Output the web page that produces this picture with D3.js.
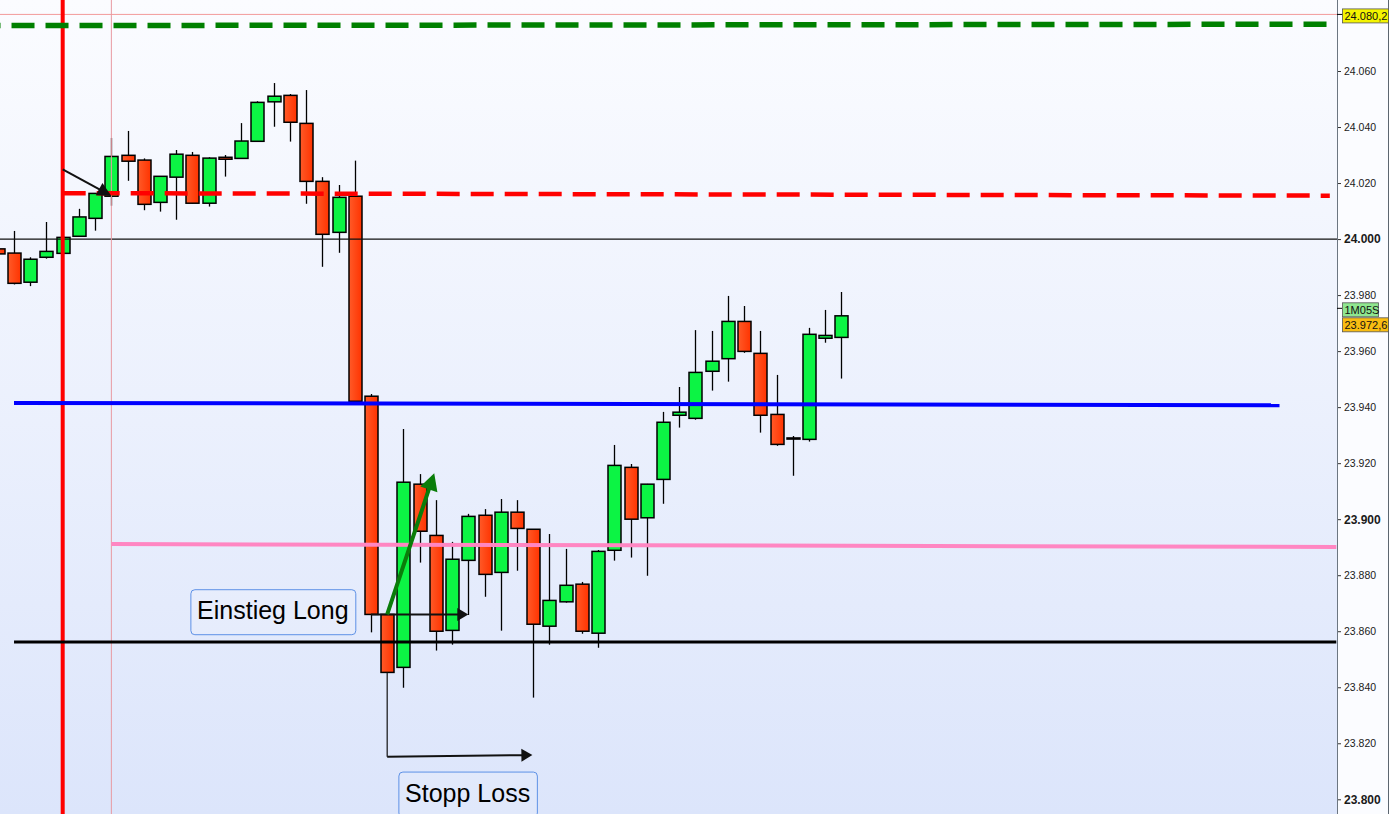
<!DOCTYPE html>
<html><head><meta charset="utf-8">
<script src="https://cdn.jsdelivr.net/npm/d3@7"></script>
<style>html,body{margin:0;padding:0;background:#fff;overflow:hidden}</style>
</head><body>
<svg id="chart" width="1389" height="814"></svg>
<script>
// ---------------- data ----------------
const candleIndex = [-1,0,1,2,3,4,5,6,7,8,9,10,11,12,13,14,15,16,17,18,19,20,21,22,23,24,25,26,27,28,29,30,31,32,33,34,35,36,37,38,39,40,41,42,43,44,45,46,47,48,49,50,51];
const opens  = [23996.5,23995.0,23984.6,23993.5,23994.9,24001.0,24007.4,24015.3,24029.9,24028.2,24013.1,24022.1,24029.9,24012.8,24029.2,24028.8,24034.9,24049.0,24051.3,24041.3,24020.6,24002.4,24015.3,23943.9,23866.0,23847.1,23912.5,23894.2,23860.3,23885.3,23901.4,23881.0,23902.5,23896.4,23861.8,23870.5,23876.8,23859.3,23888.9,23918.5,23900.5,23914.2,23937.1,23936.0,23952.8,23957.3,23970.6,23959.2,23937.4,23929.0,23928.5,23964.6,23964.9];
const highs  = [23997.2,24002.9,23993.5,24006.1,24001.1,24010.8,24016.4,24036.1,24038.6,24028.8,24022.5,24031.8,24031.1,24029.2,24030.0,24041.4,24049.2,24055.7,24051.8,24053.2,24022.1,24019.3,24028.0,23944.7,23866.0,23932.2,23916.1,23906.8,23891.9,23901.9,23903.6,23907.2,23906.8,23896.4,23894.7,23889.4,23877.6,23889.0,23926.5,23919.7,23912.6,23938.3,23947.2,23967.5,23967.2,23979.7,23976.1,23967.2,23951.5,23929.7,23968.3,23974.7,23981.1];
const lows   = [23994.0,23983.8,23983.2,23993.0,23994.7,24000.9,24003.0,24011.9,24020.8,24010.3,24009.8,24006.9,24012.7,24011.6,24022.3,24028.8,24034.8,24040.1,24034.8,24012.6,23990.1,23995.1,23942.0,23859.6,23845.3,23839.8,23884.5,23853.1,23855.2,23865.8,23872.3,23860.2,23881.6,23836.3,23855.2,23870.2,23859.1,23854.1,23885.2,23886.3,23879.8,23905.5,23932.7,23935.5,23945.9,23949.1,23959.4,23930.9,23926.2,23915.5,23927.7,23963.0,23950.2];
const closes = [23994.7,23984.2,23992.8,23995.6,24000.6,24007.9,24016.3,24029.5,24027.8,24012.4,24022.4,24030.3,24012.8,24028.9,24028.5,24035.0,24048.8,24051.0,24041.7,24020.6,24001.7,24014.9,23942.1,23866.0,23845.3,23913.2,23895.7,23860.0,23885.7,23901.0,23880.3,23902.5,23896.7,23862.5,23871.0,23876.4,23860.0,23888.5,23919.2,23900.0,23912.5,23934.6,23938.2,23952.4,23956.4,23970.6,23959.9,23937.1,23926.7,23928.6,23966.0,23965.6,23972.6];

const yTicks = [23800,23820,23840,23860,23880,23900,23920,23940,23960,23980,24000,24020,24040,24060];
const boldTicks = [23800,23900,24000];

const levelThin = 24000;      // thin black level
const levelTop = 24080.2;     // thin red level with yellow price tag
const countdownText = "1M05S";

// trend / horizontal lines: [startIndex, startPrice, endIndex, endPrice]
const greenDashed = [-2.25, 24076.2, 80.9, 24076.7];
const redDashed   = [3, 24016.4, 81.1, 24015.5];
const blueLine    = [0, 23941.5, 78, 23940.7];
const pinkLine    = [6, 23891.1, 81.5, 23890.1];
const blackLine   = [0, 23856.2, 81.5, 23856.2];

// vertical markers (candle index)
const redVertical = 3;
const thinVertical = 6;

// arrows (candle index, price) point lists
const arrowTopLeft  = [[3, 24024.9], [6, 24015.4]];
const arrowGreen    = [[23, 23866.0], [25.9, 23916.4]];
const arrowEntry    = [[22, 23866.0], [28, 23866.0]];
const arrowStop     = [[23, 23845.3], [23, 23815.2], [31.95, 23815.8]];

// text boxes: text and top-left anchor (candle index, price)
const boxTexts   = ["Einstieg Long", "Stopp Loss"];
const boxAnchors = [[10.87, 23875.0], [23.69, 23809.9]];

// ---------------- layout ----------------
const W = 1389, H = 814, plotRight = 1337;
const svg = d3.select("#chart");
const x = d3.scaleLinear().domain([-1, 81.5]).range([-2.2, 1336.3]);
const y = d3.scaleLinear().domain([23800, 24060]).range([799.3, 71]);
const loc = d3.formatLocale({decimal: ",", thousands: ".", grouping: [3], currency: ["", "€"]});
const fmtTick = loc.format(",.0f");
const fmtPrice = loc.format(",.1f");

const defs = svg.append("defs");
const bg = defs.append("linearGradient").attr("id","bg").attr("x1",0).attr("y1",0).attr("x2",0).attr("y2",1);
bg.append("stop").attr("offset","0%").attr("stop-color","#fbfcff");
bg.append("stop").attr("offset","100%").attr("stop-color","#dce5fb");
const rg = defs.append("linearGradient").attr("id","redBody").attr("x1",0).attr("y1",0).attr("x2",1).attr("y2",0);
rg.append("stop").attr("offset","0%").attr("stop-color","#ff5a28");
rg.append("stop").attr("offset","100%").attr("stop-color","#ff3300");
defs.append("clipPath").attr("id","plotClip").append("rect").attr("x",0).attr("y",0).attr("width",plotRight).attr("height",H);

// backgrounds
svg.append("rect").attr("x",0).attr("y",0).attr("width",W).attr("height",H).attr("fill","#fbfcff");
svg.append("rect").attr("x",0).attr("y",0).attr("width",plotRight).attr("height",H).attr("fill","url(#bg)");

const plot = svg.append("g").attr("clip-path","url(#plotClip)");

// top thin level line
plot.append("line").attr("x1",0).attr("x2",plotRight).attr("y1",y(levelTop)).attr("y2",y(levelTop))
  .attr("stroke","#f29a9a").attr("stroke-width",1);

// candles
const candles = candleIndex.map((i,k)=>({i, o:opens[k], h:highs[k], l:lows[k], c:closes[k]}));
const bodyW = 13;
const cg = plot.append("g");
cg.selectAll("line.wick").data(candles).join("line").attr("class","wick")
  .attr("x1",d=>Math.round(x(d.i))+0.5).attr("x2",d=>Math.round(x(d.i))+0.5)
  .attr("y1",d=>y(d.h)).attr("y2",d=>y(d.l))
  .attr("stroke","#000").attr("stroke-width",1.3);
cg.selectAll("rect.body").data(candles).join("rect").attr("class","body")
  .attr("x",d=>Math.round(x(d.i))+0.5-bodyW/2)
  .attr("width",bodyW)
  .attr("y",d=>y(Math.max(d.o,d.c)))
  .attr("height",d=>Math.max(1, Math.abs(y(d.o)-y(d.c))))
  .attr("fill",d=>d.c>=d.o ? "#0cf444" : "url(#redBody)")
  .attr("stroke","#000").attr("stroke-width",1.5);

// thin black 24.000 level
plot.append("line").attr("x1",0).attr("x2",plotRight).attr("y1",y(levelThin)).attr("y2",y(levelThin))
  .attr("stroke","#111").attr("stroke-width",1.2);

// vertical markers
plot.append("line").attr("x1",x(thinVertical)).attr("x2",x(thinVertical)).attr("y1",0).attr("y2",H)
  .attr("stroke","#e89aa2").attr("stroke-width",1);
plot.append("line").attr("x1",x(redVertical)).attr("x2",x(redVertical)).attr("y1",0).attr("y2",H)
  .attr("stroke","#ff0000").attr("stroke-width",4);

// trend lines
function seg(g, s, color, width, dash){
  const l = g.append("line").attr("x1",x(s[0])).attr("y1",y(s[1])).attr("x2",x(s[2])).attr("y2",y(s[3]))
    .attr("stroke",color).attr("stroke-width",width);
  if (dash) l.attr("stroke-dasharray",dash);
  return l;
}
seg(plot, blackLine, "#000", 3);
seg(plot, pinkLine, "#ff86c2", 4);
seg(plot, blueLine, "#0000ff", 4);
seg(plot, redDashed, "#ff0000", 4.5, "23,11");
seg(plot, greenDashed, "#008000", 5.5, "23,11");

// arrows
function arrow(g, pts, color, width, headLen, headHalf, widths){
  const P = pts.map(p=>[x(p[0]), y(p[1])]);
  const n = P.length;
  const tip = P[n-1], prev = P[n-2];
  const dx = tip[0]-prev[0], dy = tip[1]-prev[1], len = Math.hypot(dx,dy);
  const ux = dx/len, uy = dy/len;
  const bx = tip[0]-ux*headLen, by = tip[1]-uy*headLen;
  for (let k=0;k<n-1;k++){
    const end = (k===n-2) ? [bx+ux*2, by+uy*2] : P[k+1];
    g.append("line").attr("x1",P[k][0]).attr("y1",P[k][1]).attr("x2",end[0]).attr("y2",end[1])
      .attr("stroke",color).attr("stroke-width", widths ? widths[k] : width).attr("stroke-linecap","butt");
  }
  g.append("polygon").attr("points",[
    tip, [bx - uy*headHalf, by + ux*headHalf], [bx + uy*headHalf, by - ux*headHalf]
  ].map(p=>p.join(",")).join(" ")).attr("fill",color);
}
const ag = plot.append("g");
arrow(ag, arrowTopLeft, "#111", 2, 14, 7);
arrow(ag, arrowEntry, "#111", 2, 11, 6.5);
arrow(ag, arrowStop, "#111", 2, 11, 6.5, [1.2, 2]);
arrow(ag, arrowGreen, "#0a7d0a", 4, 17, 9);

// text boxes
const bgp = plot.append("g");
boxTexts.forEach((t,k)=>{
  const a = boxAnchors[k];
  const bx = x(a[0]), by = y(a[1]);
  const g = bgp.append("g");
  const rect = g.append("rect").attr("x",bx+0.5).attr("y",by+0.5).attr("height",45).attr("rx",4)
    .attr("fill","rgba(255,255,255,0.12)").attr("stroke","#5d91e6").attr("stroke-width",1);
  const txt = g.append("text").attr("x",bx+6.7).attr("y",by+30)
    .attr("font-family","'Liberation Sans', Arial, sans-serif").attr("font-size",25).attr("fill","#000").text(t);
  const w = txt.node().getComputedTextLength();
  rect.attr("width", w + 13.4);
});

// ---------------- axis ----------------
const axG = svg.append("g").attr("transform",`translate(${plotRight},0)`)
  .call(d3.axisRight(y).tickValues(yTicks).tickSize(4).tickSizeOuter(0).tickPadding(3).tickFormat(fmtTick));
axG.select(".domain").remove();
axG.selectAll(".tick line").attr("stroke","#333");
axG.selectAll(".tick text")
  .attr("font-family","'Liberation Sans', Arial, sans-serif")
  .attr("fill","#1a1a1a")
  .attr("font-size",d=>boldTicks.includes(d)?12:10.5)
  .attr("font-weight",d=>boldTicks.includes(d)?"bold":"normal");
svg.append("line").attr("x1",plotRight+0.5).attr("x2",plotRight+0.5).attr("y1",0).attr("y2",H).attr("stroke","#6c7681");
svg.append("line").attr("x1",W-0.5).attr("x2",W-0.5).attr("y1",0).attr("y2",H).attr("stroke","#5c6670");

// price tags
function tag(yc, text, fill, x0, x1){
  svg.append("rect").attr("x",x0+0.5).attr("y",yc-7).attr("width",x1-x0).attr("height",14)
    .attr("fill",fill).attr("stroke","#555").attr("stroke-width",0.8);
  svg.append("text").attr("x",x0+2.5).attr("y",yc).attr("dy","0.36em")
    .attr("font-family","'Liberation Sans', Arial, sans-serif").attr("font-size",11).attr("fill","#111").text(text);
}
svg.append("line").attr("x1",plotRight).attr("x2",plotRight+6).attr("y1",y(levelTop)).attr("y2",y(levelTop)).attr("stroke","#000");
tag(y(levelTop)+1.5, fmtPrice(levelTop), "#f4f400", 1342, 1388);
const lastClose = closes[closes.length-1];
const yc = y(lastClose);
svg.append("line").attr("x1",plotRight).attr("x2",plotRight+5).attr("y1",yc-7.5).attr("y2",yc-7.5).attr("stroke","#000");
tag(yc-6, countdownText, "#8fe68f", 1342, 1378);
tag(yc+9, fmtPrice(lastClose), "#f9bd12", 1342, 1388);
</script>
</body></html>
